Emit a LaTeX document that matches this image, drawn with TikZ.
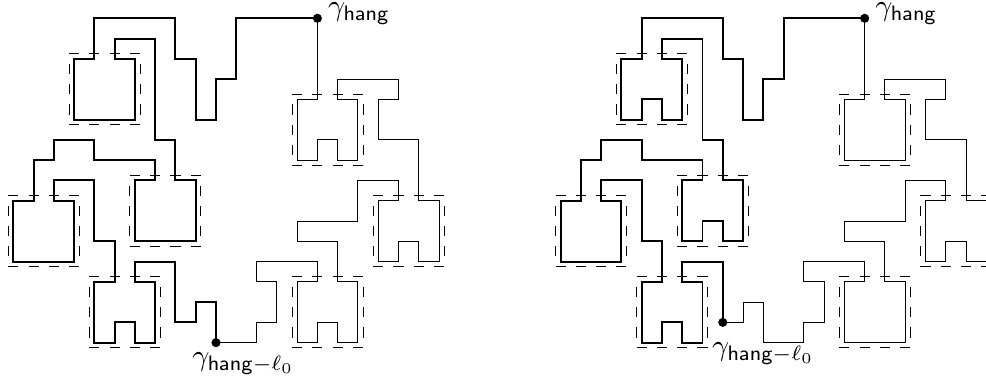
\documentclass[tikz,border=0pt]{standalone}
\tikzset{
  heavy/.style={line width=0.62pt, line join=miter},
  light/.style={line width=0.31pt, line join=miter},
  dashh/.style={line width=0.3pt, dash pattern=on 3.223pt off 3.223pt},
  dashv/.style={line width=0.3pt, dash pattern=on 3.223pt off 3.223pt, dash phase=3.223pt},
  endpoint/.style={circle, fill=black, inner sep=0pt, minimum size=2.9pt},
  lab/.style={inner sep=0pt, anchor=base west, scale=0.95},
}
% dashed frame: top-left grid corner given as #1,#2
\newcommand{\frameat}[2]{%
  \draw[dashh] (#1-0.25,#2-0.25) -- ++(3.5,0);
  \draw[dashh] (#1-0.25,#2+3.25) -- ++(3.5,0);
  \draw[dashv] (#1-0.25,#2-0.25) -- ++(0,3.5);
  \draw[dashv] (#1+3.25,#2-0.25) -- ++(0,3.5);
}
\newcommand{\allframes}{%
  \frameat{3}{2}\frameat{6}{8}\frameat{0}{9}\frameat{4}{13}%
  \frameat{14}{4}\frameat{18}{9}\frameat{14}{13}%
}
\begin{document}
\begin{tikzpicture}[x=6.446pt,y=-6.446pt]
\useasboundingbox (-0.656,-0.903) rectangle (47.985,17.794);
% ---------- left panel ----------
\allframes
\node[endpoint] (hangA) at (15,0) {};
\node[endpoint] (endA) at (10,16) {};
\draw[heavy] (hangA.center) -| (11,3) -- (10,3) -- (10,5) -- (9,5) -- (9,2) -- (8,2) -- (8,0) -- (4,0) -- (4,2) -- (3,2)
  -- (3,5) -- (6,5) -- (6,2) -- (5,2) -- (5,1) -- (7,1) -- (7,6) -- (8,6) -- (8,8) -- (9,8)
  -- (9,11) -- (6,11) -- (6,8) -- (7,8) -- (7,7) -- (4,7) -- (4,6) -- (2,6) -- (2,7) -- (1,7) -- (1,9) -- (0,9)
  -- (0,12) -- (3,12) -- (3,9) -- (2,9) -- (2,8) -- (4,8) -- (4,11) -- (5,11) -- (5,13) -- (4,13)
  -- (4,16) -- (5,16) -- (5,15) -- (6,15) -- (6,16) -- (7,16) -- (7,13) -- (6,13) -- (6,12) -- (8,12) -- (8,15) -- (9,15) -- (9,14) -- (10,14) -- (endA.center);
\draw[light] (endA.center) -- (12,16) -- (12,15) -- (13,15) -- (13,13) -- (12,13) -- (12,12) -- (15,12) -- (15,13) -- (14,13)
  -- (14,16) -- (15,16) -- (15,15) -- (16,15) -- (16,16) -- (17,16) -- (17,13) -- (16,13) -- (16,11) -- (14,11) -- (14,10) -- (17,10) -- (17,8) -- (19,8) -- (19,9) -- (18,9)
  -- (18,12) -- (19,12) -- (19,11) -- (20,11) -- (20,12) -- (21,12) -- (21,9) -- (20,9) -- (20,6) -- (18,6) -- (18,4) -- (19,4) -- (19,3) -- (16,3) -- (16,4) -- (17,4)
  -- (17,7) -- (16,7) -- (16,6) -- (15,6) -- (15,7) -- (14,7) -- (14,4) -- (15,4) -- (hangA.center);
\node[lab] (labA) at (15.5,-0.12) {$\gamma_{\mathsf{hang}}$};
\node[lab] (labB) at (8.8,17.15) {$\gamma_{\mathsf{hang}-\ell_0}$};
% ---------- right panel ----------
\begin{scope}[xshift=27*6.446pt]
\allframes
\node[endpoint] (hangC) at (15,0) {};
\node[endpoint] (endC) at (8,15) {};
\draw[heavy] (hangC.center) -| (11,3) -- (10,3) -- (10,5) -- (9,5) -- (9,2) -- (8,2) -- (8,0) -- (4,0) -- (4,2) -- (3,2)
  -- (3,5) -- (4,5) -- (4,4) -- (5,4) -- (5,5) -- (6,5) -- (6,2) -- (5,2) -- (5,1) -- (7,1) -- (7,6) -- (8,6) -- (8,8) -- (9,8)
  -- (9,11) -- (8,11) -- (8,10) -- (7,10) -- (7,11) -- (6,11) -- (6,8) -- (7,8) -- (7,7) -- (4,7) -- (4,6) -- (2,6) -- (2,7) -- (1,7) -- (1,9) -- (0,9)
  -- (0,12) -- (3,12) -- (3,9) -- (2,9) -- (2,8) -- (4,8) -- (4,11) -- (5,11) -- (5,13) -- (4,13)
  -- (4,16) -- (5,16) -- (5,15) -- (6,15) -- (6,16) -- (7,16) -- (7,13) -- (6,13) -- (6,12) -- (8,12) -- (endC.center);
\draw[light] (endC.center) -- (9,15) -- (9,14) -- (10,14) -- (10,16) -- (12,16) -- (12,15) -- (13,15) -- (13,13) -- (12,13) -- (12,12) -- (15,12) -- (15,13) -- (14,13)
  -- (14,16) -- (17,16) -- (17,13) -- (16,13) -- (16,11) -- (14,11) -- (14,10) -- (17,10) -- (17,8) -- (19,8) -- (19,9) -- (18,9)
  -- (18,12) -- (19,12) -- (19,11) -- (20,11) -- (20,12) -- (21,12) -- (21,9) -- (20,9) -- (20,6) -- (18,6) -- (18,4) -- (19,4) -- (19,3) -- (16,3) -- (16,4) -- (17,4)
  -- (17,7) -- (14,7) -- (14,4) -- (15,4) -- (hangC.center);
\node[lab] (labC) at (15.5,-0.12) {$\gamma_{\mathsf{hang}}$};
\node[lab] (labD) at (7.45,16.65) {$\gamma_{\mathsf{hang}-\ell_0}$};
\end{scope}
\end{tikzpicture}
\end{document}
